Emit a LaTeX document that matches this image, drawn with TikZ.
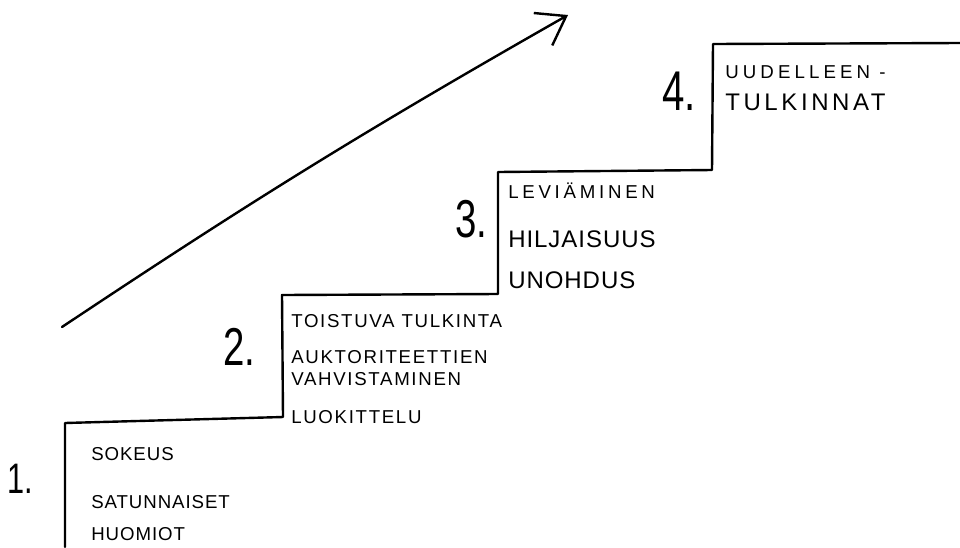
\documentclass[tikz,border=0pt]{standalone}
\usepackage{fontspec}
\newfontfamily\handfont{Liberation Sans}
\usetikzlibrary{arrows.meta}
\tikzset{
  stair/.style={line width=1.8pt, line join=round, line cap=round},
  hand/.style 2 args={anchor=base west, inner sep=0pt,
    font=\handfont\fontsize{#1}{#1}\selectfont\addfontfeature{LetterSpace=#2}},
  stepnum/.style={anchor=base west, inner sep=0pt,
    font=\handfont\fontsize{#1}{#1}\selectfont\addfontfeature{FakeStretch=0.72}}
}

\begin{document}
\begin{tikzpicture}[x=0.75pt, y=-0.75pt]
    \useasboundingbox (0,0) rectangle (960,547);

    % coordinates to be reused
    \coordinate (A) at (65,547);
    \coordinate (B) at (65,423);
    \coordinate (C) at (283,417);
    \coordinate (D) at (282,295);
    \coordinate (E) at (498,294);
    \coordinate (F) at (498,172);
    \coordinate (G) at (712,170);
    \coordinate (H) at (713,44);
    \coordinate (I) at (960,43);
    \coordinate (arrowstart) at (62,327);
    \coordinate (arrowend) at (568,15);

    % draw figure
    \draw [stair] (A) -- (B) -- (C) -- (D) -- (E) -- (F) -- (G) -- (H) -- (I);
    \draw [stair, -{Straight Barb[length=20pt, width=28pt]}]
      (arrowstart) to [bend left=2] (arrowend);

    % add labels
    \node (n1) [stepnum=32] at (7,493) {1.};
    \node (n2) [stepnum=40] at (223,365) {2.};
    \node (n3) [stepnum=40] at (455,237) {3.};
    \node (n4) [stepnum=42] at (662,110) {4.};

    \node (sokeus) [hand={14}{5}] at (91,460) {SOKEUS};
    \node (satunnaiset) [hand={14}{5}] at (91,508) {SATUNNAISET};
    \node (huomiot) [hand={14}{5}] at (91,540) {HUOMIOT};

    \node (toistuva) [hand={14}{9}] at (291,327) {TOISTUVA TULKINTA};
    \node (auktoriteettien) [hand={14}{9}] at (291,363) {AUKTORITEETTIEN};
    \node (vahvistaminen) [hand={14}{9}] at (291,385) {VAHVISTAMINEN};
    \node (luokittelu) [hand={14}{9}] at (291,423) {LUOKITTELU};

    \node (leviaminen) [hand={14}{20}] at (508,198) {LEVIÄMINEN};
    \node (hiljaisuus) [hand={18}{4}] at (508,247) {HILJAISUUS};
    \node (unohdus) [hand={18}{4}] at (508,288) {UNOHDUS};

    \node (uudelleen) [hand={14}{22}] at (725,78) {UUDELLEEN -};
    \node (tulkinnat) [hand={18}{15}] at (725,110) {TULKINNAT};
\end{tikzpicture}
\end{document}
